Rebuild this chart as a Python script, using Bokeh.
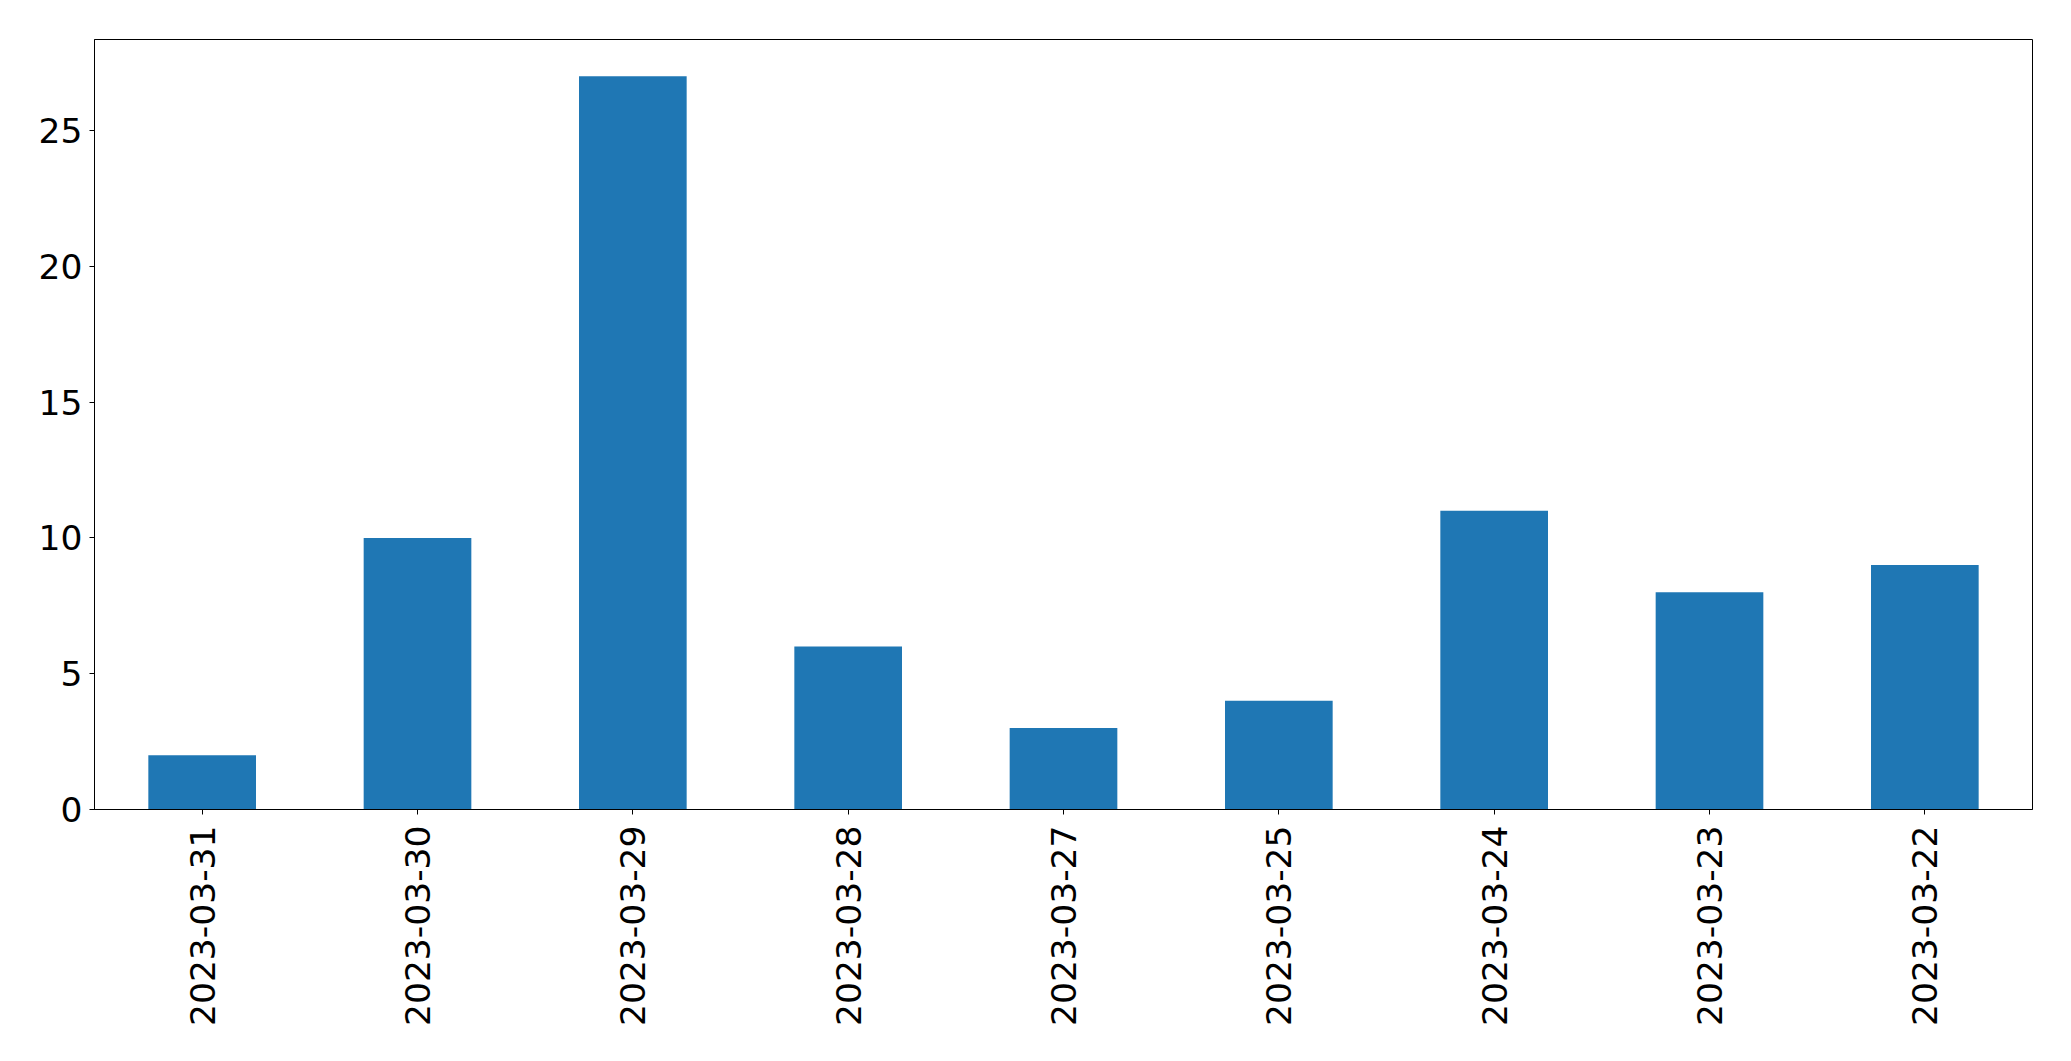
import math
from bokeh.plotting import figure
from bokeh.models import FactorRange, Range1d, FixedTicker, ColumnDataSource
from bokeh.embed import file_html
from bokeh.resources import INLINE

dates = ["2023-03-31", "2023-03-30", "2023-03-29", "2023-03-28", "2023-03-27",
         "2023-03-25", "2023-03-24", "2023-03-23", "2023-03-22"]
counts = [2, 10, 27, 6, 3, 4, 11, 8, 9]
y_ticks = [0, 5, 10, 15, 20, 25]

src = ColumnDataSource(dict(x=dates, y=counts))

p = figure(x_range=FactorRange(*dates), y_range=Range1d(0, max(counts) * 1.05),
           width=2055, height=1043, output_backend="svg", toolbar_location=None,
           min_border_left=94, min_border_right=23, min_border_top=39, min_border_bottom=234)
p.vbar(x="x", top="y", width=0.5, source=src, color="#1f77b4", line_color=None)

p.xgrid.visible = False
p.ygrid.visible = False
p.outline_line_color = "black"
p.outline_line_width = 1
p.background_fill_color = "white"
p.border_fill_color = "white"

p.yaxis.ticker = FixedTicker(ticks=y_ticks)
for ax in (p.xaxis[0], p.yaxis[0]):
    ax.axis_line_color = "black"
    ax.major_tick_line_color = "black"
    ax.minor_tick_line_color = None
    ax.major_tick_in = 0
    ax.major_tick_out = 5
    ax.major_label_text_font = "DejaVu Sans"
    ax.major_label_text_font_size = "34.5px"
    ax.major_label_text_color = "black"

p.xaxis.major_label_orientation = math.pi / 2
p.xaxis.major_label_standoff = 11
p.yaxis.major_label_standoff = 7

open("out.html", "w").write(file_html(p, INLINE))
